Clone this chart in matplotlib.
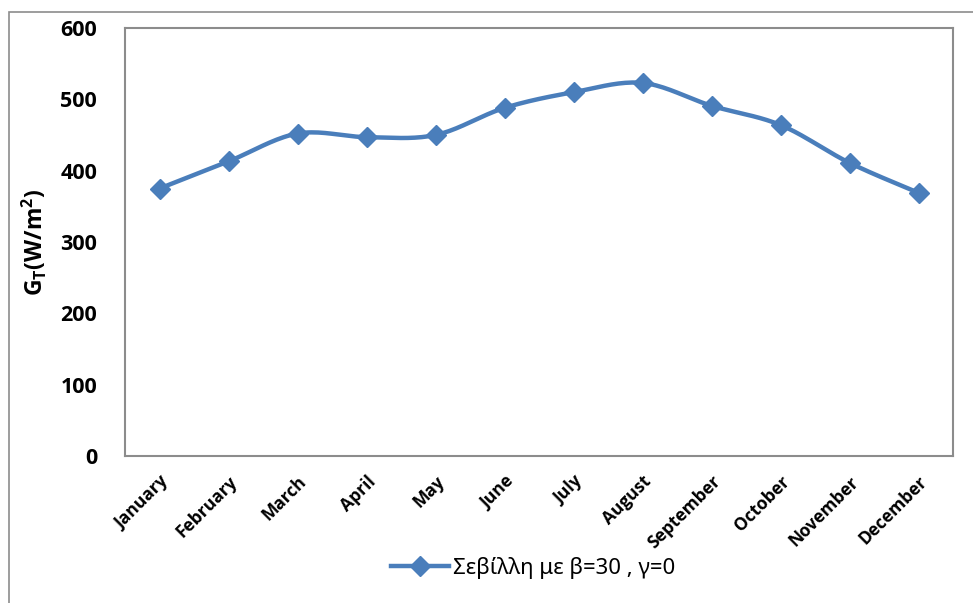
import numpy as np
import matplotlib
matplotlib.use("Agg")
import matplotlib.pyplot as plt
from matplotlib.patches import Rectangle

# data
months = ["January", "February", "March", "April", "May", "June",
          "July", "August", "September", "October", "November", "December"]
gt_values = [375, 413, 452, 447, 450, 488, 510, 523, 491, 464, 411, 369]
series_name = "Σεβίλλη με β=30 , γ=0"

line_color = "#4A7EBB"
tick_font = ["Open Sans", "DejaVu Sans"]
plt.rcParams["mathtext.default"] = "regular"


def smooth_curve(x, y, tension=0.5, steps=20):
    # cardinal spline through points, roughly like Excel's smoothed line
    x = np.asarray(x, float)
    y = np.asarray(y, float)
    px, py = [], []
    n = len(x)
    for i in range(n - 1):
        x0, y0 = (x[i - 1], y[i - 1]) if i > 0 else (x[i], y[i])
        x3, y3 = (x[i + 2], y[i + 2]) if i + 2 < n else (x[i + 1], y[i + 1])
        m1x, m1y = tension * (x[i + 1] - x0), tension * (y[i + 1] - y0)
        m2x, m2y = tension * (x3 - x[i]), tension * (y3 - y[i])
        t = np.linspace(0, 1, steps, endpoint=(i == n - 2))
        h00 = 2 * t**3 - 3 * t**2 + 1
        h10 = t**3 - 2 * t**2 + t
        h01 = -2 * t**3 + 3 * t**2
        h11 = t**3 - t**2
        px.extend(h00 * x[i] + h10 * m1x + h01 * x[i + 1] + h11 * m2x)
        py.extend(h00 * y[i] + h10 * m1y + h01 * y[i + 1] + h11 * m2y)
    return np.array(px), np.array(py)


fig = plt.figure(figsize=(9.73, 6.03), dpi=100)
# outer chart border
fig.patches.append(Rectangle((9 / 973, -0.05), 1.1, 1 - 12 / 603 + 0.05,
                             transform=fig.transFigure, fill=False,
                             edgecolor="#8c8c8c", linewidth=1.2))

ax = fig.add_axes([125 / 973, 1 - 456 / 603, (953 - 125) / 973, (456 - 28) / 603])

xs = np.arange(len(months))
sx, sy = smooth_curve(xs, gt_values)
ax.plot(sx, sy, color=line_color, linewidth=3.2, solid_capstyle="round")
ax.plot(xs, gt_values, linestyle="none", marker="D", markersize=10,
        color=line_color)

ax.set_xlim(-0.5, len(months) - 0.5)
ax.set_ylim(0, 600)
ax.set_yticks(range(0, 601, 100))
ax.set_xticks(xs)
ax.set_xticklabels(months, rotation=45, ha="right", va="top",
                   rotation_mode="anchor", fontsize=12.5, fontweight="bold",
                   family=tick_font)
for lbl in ax.get_yticklabels():
    lbl.set_fontsize(15.5)
    lbl.set_fontweight("bold")
    lbl.set_family(tick_font)
ax.tick_params(axis="both", length=0)
ax.tick_params(axis="y", pad=20)
ax.tick_params(axis="x", pad=12)
for sp in ax.spines.values():
    sp.set_color("#8c8c8c")
    sp.set_linewidth(1.5)

ax.set_ylabel(r"G$_\mathregular{T}$(W/m$^\mathregular{2}$)", fontsize=16.5,
              fontweight="bold", family=tick_font, labelpad=8)

# legend drawn below the axes
handle, = ax.plot([], [], color=line_color, linewidth=3.2, marker="D",
                  markersize=10)
fig.legend([handle], [series_name], loc="center",
           bbox_to_anchor=(533 / 973, 1 - 568 / 603), frameon=False,
           handlelength=2.6, handletextpad=0.2,
           prop={"family": ["Noto Sans", "DejaVu Sans"], "size": 16})

fig.savefig("out.png", dpi=100)
